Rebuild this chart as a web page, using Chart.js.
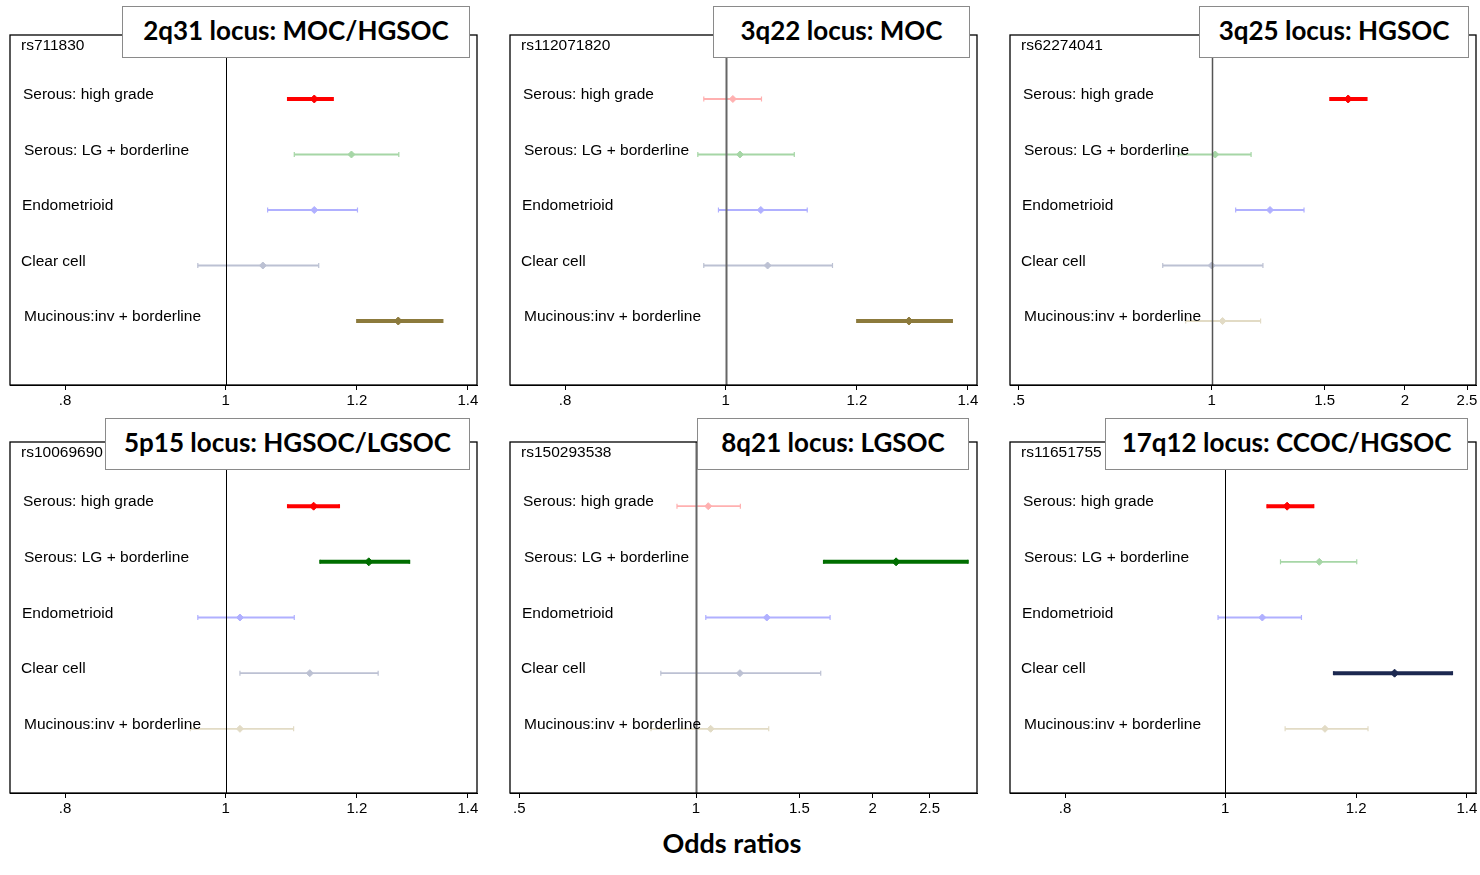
<!DOCTYPE html>
<html><head><meta charset="utf-8">
<script src="https://cdn.jsdelivr.net/npm/chart.js@4.4.0/dist/chart.umd.min.js"></script>
<style>
html,body{margin:0;padding:0;background:#fff;}
body{width:1480px;height:875px;position:relative;overflow:hidden;font-family:"Liberation Sans",Arial,sans-serif;}
.cw{position:absolute;}
.title{position:absolute;box-sizing:border-box;border:1.5px solid #8a8a8a;background:#fff;font-family:Lato,"Open Sans",sans-serif;font-weight:700;font-size:26px;color:#000;display:flex;align-items:center;justify-content:center;white-space:nowrap;padding-bottom:5px;}
.snp{position:absolute;font-size:15.5px;color:#000;line-height:15px;}
#xlabel{position:absolute;left:632px;width:200px;top:826px;text-align:center;font-family:Lato,"Open Sans",sans-serif;font-weight:700;font-size:27px;line-height:34px;color:#000;}
</style></head>
<body>
<div id="root"></div>
<div id="xlabel">Odds ratios</div>
<script>
// ---- data ----
const categories = ["Serous: high grade","Serous: LG + borderline","Endometrioid","Clear cell","Mucinous:inv + borderline"];
const panelTitles = ["2q31 locus: MOC/HGSOC","3q22 locus: MOC","3q25 locus: HGSOC","5p15 locus: HGSOC/LGSOC","8q21 locus: LGSOC","17q12 locus: CCOC/HGSOC"];
const snpIds = ["rs711830","rs112071820","rs62274041","rs10069690","rs150293538","rs11651755"];
const ticksNarrow = [0.8, 1, 1.2, 1.4];
const tickLabelsNarrow = [".8", "1", "1.2", "1.4"];
const ticksWide = [0.5, 1, 1.5, 2, 2.5];
const tickLabelsWide = [".5", "1", "1.5", "2", "2.5"];
const rangeNarrow = [0.741, 1.418];
const range3q25 = [0.485, 2.582];
const range8q21 = [0.482, 3.011];

const or2q31 = [1.131, 1.191, 1.131, 1.053, 1.271];
const lo2q31 = [1.090, 1.100, 1.060, 0.962, 1.200];
const hi2q31 = [1.161, 1.272, 1.201, 1.138, 1.352];
const sig2q31 = [1, 0, 0, 0, 1];

const or3q22 = [1.010, 1.020, 1.050, 1.060, 1.290];
const lo3q22 = [0.970, 0.962, 0.990, 0.970, 1.200];
const hi3q22 = [1.051, 1.100, 1.120, 1.160, 1.370];
const sig3q22 = [0, 0, 0, 0, 1];

const or3q25 = [1.632, 1.013, 1.233, 1.000, 1.040];
const lo3q25 = [1.529, 0.887, 1.090, 0.839, 0.911];
const hi3q25 = [1.745, 1.152, 1.393, 1.202, 1.192];
const sig3q25 = [1, 0, 0, 0, 0];

const or5p15 = [1.130, 1.220, 1.020, 1.124, 1.020];
const lo5p15 = [1.090, 1.140, 0.962, 1.020, 0.952];
const hi5p15 = [1.171, 1.291, 1.100, 1.236, 1.099];
const sig5p15 = [1, 1, 0, 0, 0];

const or8q21 = [1.049, 2.192, 1.320, 1.188, 1.059];
const lo8q21 = [0.928, 1.650, 1.039, 0.871, 0.838];
const hi8q21 = [1.190, 2.907, 1.692, 1.631, 1.330];
const sig8q21 = [0, 1, 0, 0, 0];

const or17q12 = [1.090, 1.140, 1.053, 1.266, 1.149];
const lo17q12 = [1.060, 1.080, 0.990, 1.163, 1.087];
const hi17q12 = [1.131, 1.201, 1.112, 1.372, 1.220];
const sig17q12 = [1, 0, 0, 1, 0];

// ---- styles ----
const strongColors = ["#ff0000", "#006e00", "#5a5aff", "#1c2850", "#8c7a3c"];
const lightColors  = ["#ffb0b0", "#a6d6a6", "#b0b0ff", "#bcc1d3", "#e2dbc5"];
const labelOffsets = [13, 14, 12, 11, 14];

const panels = [
  {or:or2q31, lo:lo2q31, hi:hi2q31, sig:sig2q31, ticks:ticksNarrow, labs:tickLabelsNarrow, range:rangeNarrow,
   box:[10,35,477,385], tbox:[122,6,470,58], ref:["#000",1]},
  {or:or3q22, lo:lo3q22, hi:hi3q22, sig:sig3q22, ticks:ticksNarrow, labs:tickLabelsNarrow, range:rangeNarrow,
   box:[510,35,977,385], tbox:[713,6,970,58], ref:["#666",2]},
  {or:or3q25, lo:lo3q25, hi:hi3q25, sig:sig3q25, ticks:ticksWide, labs:tickLabelsWide, range:range3q25,
   box:[1010,35,1476,385], tbox:[1199,6,1469,58], ref:["#555",1.5]},
  {or:or5p15, lo:lo5p15, hi:hi5p15, sig:sig5p15, ticks:ticksNarrow, labs:tickLabelsNarrow, range:rangeNarrow,
   box:[10,442,477,793], tbox:[105,418,470,470], ref:["#000",1]},
  {or:or8q21, lo:lo8q21, hi:hi8q21, sig:sig8q21, ticks:ticksWide, labs:tickLabelsWide, range:range8q21,
   box:[510,442,977,793], tbox:[697,418,969,470], ref:["#666",2]},
  {or:or17q12, lo:lo17q12, hi:hi17q12, sig:sig17q12, ticks:ticksNarrow, labs:tickLabelsNarrow, range:rangeNarrow,
   box:[1010,442,1476,793], tbox:[1105,418,1468,470], ref:["#000",1]}
];

const deco = {
  id: 'deco',
  afterDatasetsDraw(chart, args, opts) {
    const {ctx, chartArea: a, scales: {x, y}} = chart;
    ctx.save();
    const px = Math.round(x.getPixelForValue(1)) + 0.5;
    ctx.strokeStyle = opts.refColor; ctx.lineWidth = opts.refWidth;
    ctx.beginPath(); ctx.moveTo(px, a.top); ctx.lineTo(px, a.bottom); ctx.stroke();
    ctx.fillStyle = '#000';
    ctx.font = '15.5px "Liberation Sans", Arial, sans-serif';
    ctx.textBaseline = 'middle'; ctx.textAlign = 'left';
    categories.forEach((c, i) => ctx.fillText(c, a.left + labelOffsets[i], y.getPixelForValue(i) - 4));
    ctx.strokeStyle = '#000'; ctx.lineWidth = 1.3;
    ctx.strokeRect(a.left, a.top, a.right - a.left, a.bottom - a.top);
    ctx.restore();
  }
};

const root = document.getElementById('root');
panels.forEach((p, pi) => {
  const [bx0, by0, bx1, by1] = p.box;
  const wrap = document.createElement('div');
  wrap.className = 'cw';
  wrap.style.left = (bx0 - 12) + 'px';
  wrap.style.top = (by0 - 2) + 'px';
  wrap.style.width = (bx1 - bx0 + 24) + 'px';
  wrap.style.height = (by1 - by0 + 32) + 'px';
  const cv = document.createElement('canvas');
  wrap.appendChild(cv);
  root.appendChild(wrap);

  const snp = document.createElement('div');
  snp.className = 'snp';
  snp.style.left = (bx0 + 11) + 'px';
  snp.style.top = (by0 + 2) + 'px';
  snp.textContent = snpIds[pi];
  root.appendChild(snp);

  const t = document.createElement('div');
  t.className = 'title';
  const [tx0, ty0, tx1, ty1] = p.tbox;
  t.style.left = tx0 + 'px'; t.style.top = ty0 + 'px';
  t.style.width = (tx1 - tx0) + 'px'; t.style.height = (ty1 - ty0) + 'px';
  t.textContent = panelTitles[pi];
  root.appendChild(t);

  const datasets = categories.map((c, i) => {
    const s = p.sig[i] === 1;
    const col = s ? strongColors[i] : lightColors[i];
    return {
      label: c,
      data: [{x: p.lo[i], y: i}, {x: p.or[i], y: i}, {x: p.hi[i], y: i}],
      showLine: true,
      borderColor: col,
      backgroundColor: col,
      borderWidth: s ? 4 : 1.8,
      pointStyle: ['line', 'rectRot', 'line'],
      rotation: [90, 0, 90],
      pointRadius: s ? [2, 4, 2] : [2.5, 3.5, 2.5],
      pointBorderWidth: s ? [1.5, 1, 1.5] : [1.2, 1, 1.2],
      pointBorderColor: col,
      pointBackgroundColor: col,
      clip: false
    };
  });

  new Chart(cv, {
    type: 'scatter',
    data: {datasets},
    plugins: [deco],
    options: {
      responsive: true, maintainAspectRatio: false, animation: false, events: [],
      layout: {autoPadding: false, padding: {left: 12, right: 12, top: 2, bottom: 0}},
      plugins: {legend: {display: false}, tooltip: {enabled: false}, title: {display: false},
        deco: {refColor: p.ref[0], refWidth: p.ref[1]}},
      scales: {
        x: {
          type: 'logarithmic', min: p.range[0], max: p.range[1], bounds: 'data',
          afterBuildTicks: s => { s.ticks = p.ticks.map(v => ({value: v})); },
          afterFit: s => { s.height = 30; },
          ticks: {autoSkip: false, maxRotation: 0, minRotation: 0, color: '#000', padding: 2,
            font: {family: '"Liberation Sans", Arial, sans-serif', size: 15},
            callback: (v, i) => p.labs[i]},
          grid: {drawOnChartArea: false, drawTicks: true, tickLength: 5, color: '#000', lineWidth: 1},
          border: {display: true, color: '#000', width: 1}
        },
        y: {type: 'linear', display: false, min: -1.153, max: 5.153, reverse: true}
      }
    }
  });
});
</script>
</body></html>
